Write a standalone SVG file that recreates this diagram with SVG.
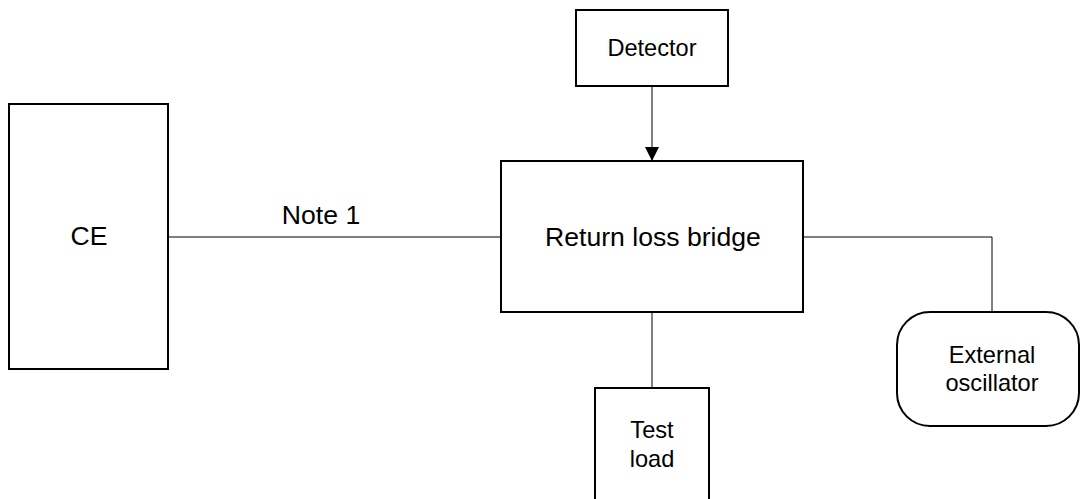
<svg xmlns="http://www.w3.org/2000/svg" width="1082" height="499" viewBox="0 0 1082 499">
<style>
.box{fill:#fff;stroke:#000;stroke-width:2}
.wire{fill:none;stroke:#000;stroke-width:1}
.t{font-family:"Liberation Sans",Arial,sans-serif;fill:#000;text-anchor:middle}
.big{font-size:26.6px}
.small{font-size:23.6px}
</style>
<defs>
<marker id="arr" markerWidth="14" markerHeight="14" refX="14" refY="7" orient="auto" markerUnits="userSpaceOnUse">
<path d="M0,0 L14,7 L0,14 Z" fill="#000"/>
</marker>
</defs>
<rect width="1082" height="499" fill="#fff"/>
<g id="connectors">
<line class="wire" x1="652" y1="86" x2="652" y2="161" marker-end="url(#arr)"/>
<line class="wire" x1="168" y1="237" x2="501" y2="237"/>
<polyline class="wire" points="803,237 992,237 992,312"/>
<line class="wire" x1="652" y1="312" x2="652" y2="388"/>
<text class="t big" x="321" y="224">Note 1</text>
</g>
<g id="detector">
<rect class="box" x="576" y="10" width="152" height="76"/>
<text class="t small" x="652" y="56">Detector</text>
</g>
<g id="ce">
<rect class="box" x="9" y="104" width="159" height="265"/>
<text class="t big" x="89" y="245">CE</text>
</g>
<g id="bridge">
<rect class="box" x="501" y="161" width="302" height="151"/>
<text class="t big" x="653" y="246">Return loss bridge</text>
</g>
<g id="testload">
<rect class="box" x="595" y="388" width="114" height="130"/>
<text class="t small" x="652" y="438">Test</text>
<text class="t small" x="652" y="467">load</text>
</g>
<g id="oscillator">
<rect class="box" x="897" y="312" width="182" height="114" rx="33" ry="33"/>
<text class="t small" x="992" y="363">External</text>
<text class="t small" x="992" y="391">oscillator</text>
</g>
</svg>
